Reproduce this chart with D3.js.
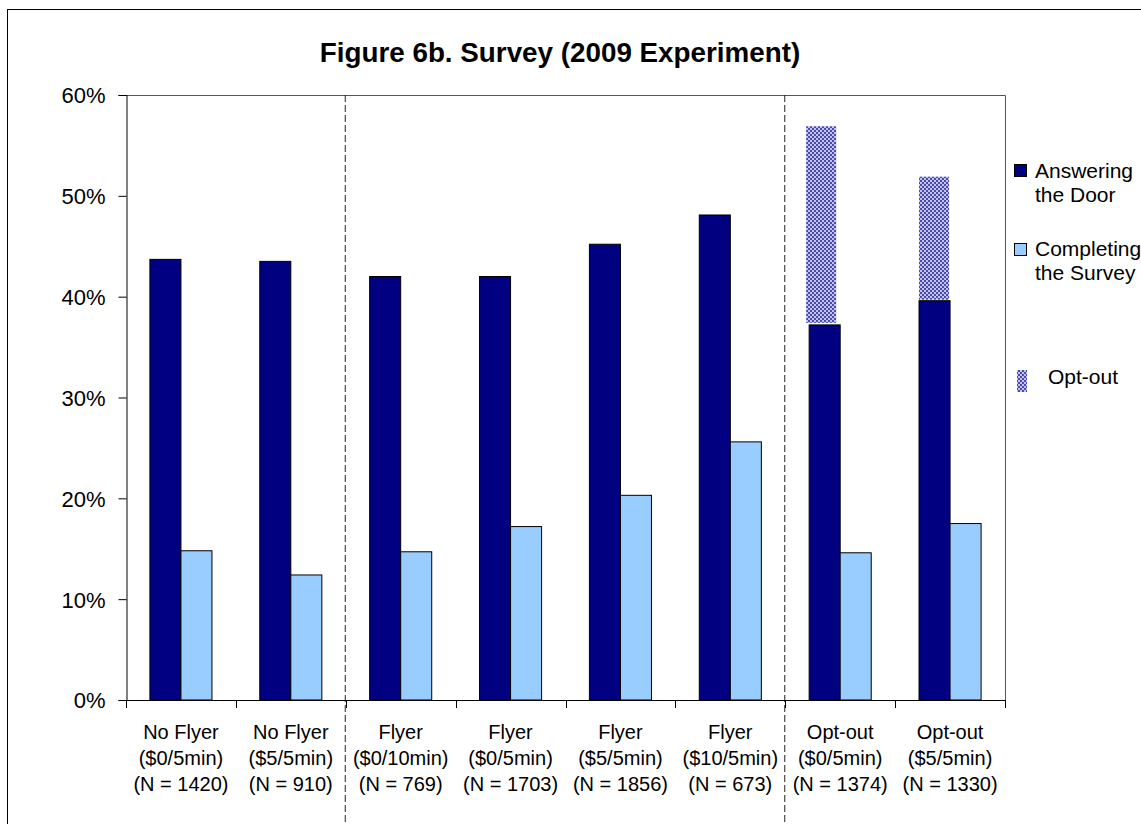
<!DOCTYPE html>
<html>
<head>
<meta charset="utf-8">
<script src="https://cdn.jsdelivr.net/npm/d3@7"></script>
<style>
  html, body { margin: 0; padding: 0; background: #fff; }
  svg { display: block; font-family: "Liberation Sans", Arial, sans-serif; }
</style>
</head>
<body>
<svg id="chart" width="1141" height="824"></svg>
<script>
// Survey response by treatment
const categories = [
  ["No Flyer", "($0/5min)", "(N = 1420)"],
  ["No Flyer", "($5/5min)", "(N = 910)"],
  ["Flyer", "($0/10min)", "(N = 769)"],
  ["Flyer", "($0/5min)", "(N = 1703)"],
  ["Flyer", "($5/5min)", "(N = 1856)"],
  ["Flyer", "($10/5min)", "(N = 673)"],
  ["Opt-out", "($0/5min)", "(N = 1374)"],
  ["Opt-out", "($5/5min)", "(N = 1330)"]
];
const answering = [43.7, 43.5, 42.0, 42.0, 45.2, 48.1, 37.2, 39.6];
const completing = [14.8, 12.4, 14.7, 17.2, 20.3, 25.6, 14.6, 17.5];
// Opt-out segments stacked above the door-answering bar (index, from, to)
const optOutIndex = [6, 7];
const optOutFrom = [37.4, 39.7];
const optOutTo = [56.9, 51.9];
const yTicks = [0, 10, 20, 30, 40, 50, 60];
const groupDividers = [2, 6];

const svg = d3.select("#chart");
const plotLeft = 126, plotRight = 1005, plotTop = 95, plotBottom = 700;

// pattern for the opt-out fill
const defs = svg.append("defs");
const pat = defs.append("pattern").attr("id", "optPat")
  .attr("patternUnits", "userSpaceOnUse").attr("width", 4).attr("height", 4);
pat.append("rect").attr("width", 4).attr("height", 4).attr("fill", "#c4c4ea");
pat.append("rect").attr("width", 2).attr("height", 2).attr("fill", "#4a4ab4");
pat.append("rect").attr("x", 2).attr("y", 2).attr("width", 2).attr("height", 2).attr("fill", "#4a4ab4");

// outer chart frame
svg.append("rect").attr("x", 7.5).attr("y", 9.5).attr("width", 1200).attr("height", 900)
  .attr("fill", "none").attr("stroke", "#000").attr("stroke-width", 1);

// title
svg.append("text").attr("x", 560).attr("y", 62).attr("text-anchor", "middle")
  .attr("font-size", 27.8).attr("font-weight", "bold").attr("fill", "#000")
  .text("Figure 6b. Survey (2009 Experiment)");

const x0 = d3.scaleBand().domain(d3.range(categories.length)).range([plotLeft, plotRight])
  .paddingInner(0).paddingOuter(0);
const x1 = d3.scaleBand().domain([0, 1]).range([0, x0.bandwidth()])
  .paddingInner(0).paddingOuter(0.77);
const y = d3.scaleLinear().domain([0, 60]).range([plotBottom, plotTop]);

// plot area border (top and right)
svg.append("path")
  .attr("d", `M${plotLeft},${plotTop + 0.5}H${plotRight + 0.5}V${plotBottom}`)
  .attr("fill", "none").attr("stroke", "#555").attr("stroke-width", 1);

// y axis
const yAxis = svg.append("g").attr("transform", `translate(${plotLeft + 0.5},0)`)
  .call(d3.axisLeft(y).tickValues(yTicks).tickSize(8).tickPadding(13)
    .tickFormat(d => d + "%"));
yAxis.select(".domain").attr("stroke", "#000");
yAxis.selectAll(".tick line").attr("stroke", "#000");
yAxis.selectAll(".tick text").attr("font-size", 22).attr("fill", "#000")
  .attr("font-family", "Liberation Sans, Arial, sans-serif").attr("dy", "0.36em");

// dashed group dividers
svg.selectAll("line.divider").data(groupDividers).enter().append("line")
  .attr("class", "divider")
  .attr("x1", d => x0(d) - 0.5).attr("x2", d => x0(d) - 0.5)
  .attr("y1", plotTop).attr("y2", 824)
  .attr("stroke", "#222").attr("stroke-width", 1).attr("stroke-dasharray", "7,3");

// bars
const g = svg.append("g");
const barData = [];
categories.forEach((c, i) => {
  barData.push({ i, s: 0, v: answering[i] });
  barData.push({ i, s: 1, v: completing[i] });
});
g.selectAll("rect.bar").data(barData).enter().append("rect")
  .attr("class", "bar")
  .attr("x", d => x0(d.i) + x1(d.s))
  .attr("y", d => y(d.v))
  .attr("width", x1.bandwidth())
  .attr("height", d => y(0) - y(d.v))
  .attr("fill", d => d.s === 0 ? "#000080" : "#99ccff")
  .attr("stroke", "#000").attr("stroke-width", 1);

// opt-out segments
g.selectAll("rect.opt").data(optOutIndex).enter().append("rect")
  .attr("class", "opt")
  .attr("x", (d, k) => x0(d) + x1(0) - (k === 0 ? 3 : 0))
  .attr("y", (d, k) => y(optOutTo[k]))
  .attr("width", x1.bandwidth() - 1)
  .attr("height", (d, k) => y(optOutFrom[k]) - y(optOutTo[k]))
  .attr("fill", "url(#optPat)");

// x axis
const xAxisLine = svg.append("g");
xAxisLine.append("line").attr("x1", plotLeft).attr("x2", plotRight + 1)
  .attr("y1", plotBottom + 0.5).attr("y2", plotBottom + 0.5).attr("stroke", "#000");
const catTicks = d3.range(categories.length + 1).map(i => i < categories.length ? x0(i) : plotRight);
xAxisLine.selectAll("line.ct").data(catTicks).enter().append("line")
  .attr("class", "ct")
  .attr("x1", d => Math.round(d) + 0.5).attr("x2", d => Math.round(d) + 0.5)
  .attr("y1", plotBottom).attr("y2", plotBottom + 8).attr("stroke", "#000");

// category labels
const labels = svg.append("g").attr("font-size", 20).attr("fill", "#000")
  .attr("text-anchor", "middle");
categories.forEach((c, i) => {
  const t = labels.append("text").attr("x", x0(i) + x0.bandwidth() / 2);
  c.forEach((line, k) => {
    t.append("tspan").attr("x", x0(i) + x0.bandwidth() / 2)
      .attr("y", 739 + k * 26).text(line);
  });
});

// legend
const leg = svg.append("g").attr("font-size", 21).attr("fill", "#000");
const legendRows = [
  { fill: "#000080", y0: 164, lines: ["Answering", "the Door"], base: 178 },
  { fill: "#99ccff", y0: 243, lines: ["Completing", "the Survey"], base: 256 }
];
legendRows.forEach(r => {
  leg.append("rect").attr("x", 1014.5).attr("y", r.y0 + 0.5).attr("width", 12).attr("height", 12)
    .attr("fill", r.fill).attr("stroke", "#000").attr("stroke-width", 1);
  r.lines.forEach((l, k) => {
    leg.append("text").attr("x", 1035).attr("y", r.base + k * 24).text(l);
  });
});
leg.append("rect").attr("x", 1017).attr("y", 370).attr("width", 10).attr("height", 22)
  .attr("fill", "url(#optPat)");
leg.append("text").attr("x", 1048).attr("y", 384).text("Opt-out");
</script>
</body>
</html>
